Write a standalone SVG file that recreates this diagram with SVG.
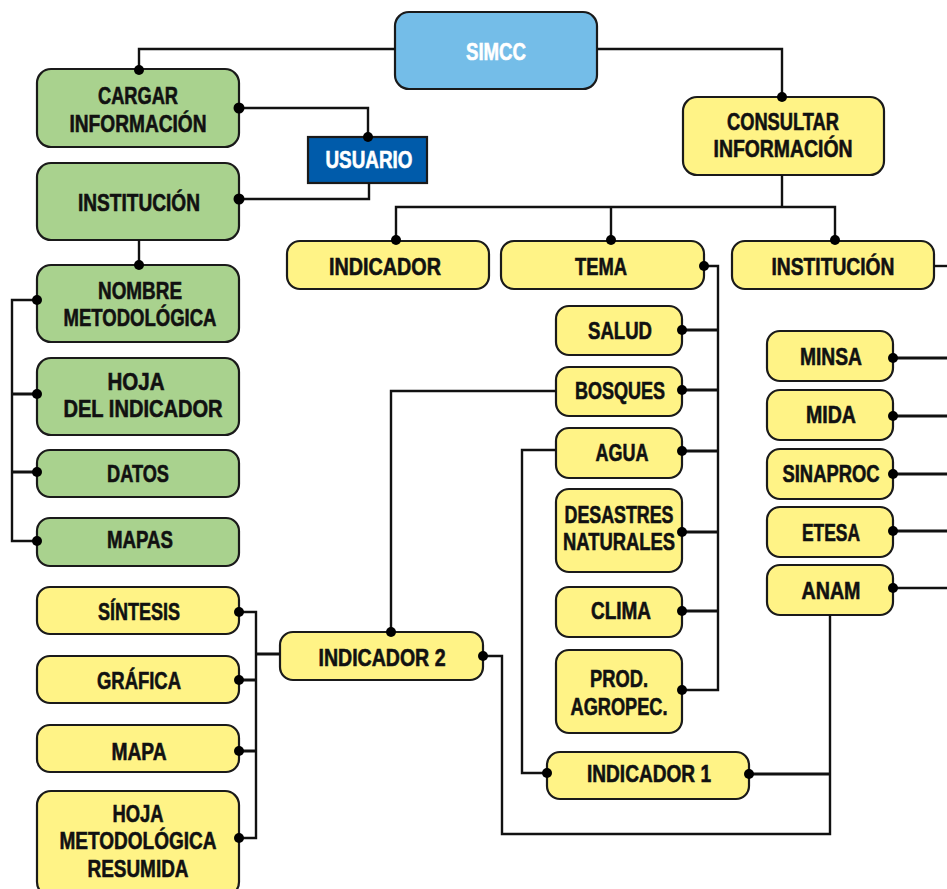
<svg xmlns="http://www.w3.org/2000/svg" width="947" height="889" viewBox="0 0 947 889">
<style>
.n{stroke:#1a1a1a;stroke-width:2.2}
.g{fill:#A9D28E}
.y{fill:#FFF386}
.b{fill:#74BDE8}
.u{fill:#005BAA}
text{font-family:"Liberation Sans Narrow","Liberation Sans",Arial,sans-serif;font-weight:bold;font-size:24px;text-anchor:middle;fill:#111;stroke:#111;stroke-width:0.6}
text.w{fill:#fff;stroke:#fff}
.c path{fill:none;stroke:#111;stroke-width:2.4}
.c .t{stroke-width:3.2}
.c circle{fill:#000}
</style>
<rect width="947" height="889" fill="#fff"/>
<g id="simcc"><rect class="n b" x="395" y="12" width="202" height="77" rx="14"/><text class="w" x="496" y="60" textLength="60" lengthAdjust="spacingAndGlyphs">SIMCC</text></g>
<g id="cargar"><rect class="n g" x="37" y="69" width="202" height="78" rx="14"/><text x="138" y="104" textLength="80" lengthAdjust="spacingAndGlyphs">CARGAR</text><text x="138" y="132" textLength="137" lengthAdjust="spacingAndGlyphs">INFORMACIÓN</text></g>
<g id="usuario"><rect class="n u" x="308" y="137" width="119" height="46"/><text class="w" x="369" y="168" textLength="87" lengthAdjust="spacingAndGlyphs">USUARIO</text></g>
<g id="institucion-g"><rect class="n g" x="37" y="163" width="202" height="77" rx="14"/><text x="139" y="211" textLength="122" lengthAdjust="spacingAndGlyphs">INSTITUCIÓN</text></g>
<g id="nombre"><rect class="n g" x="37" y="265" width="202" height="77" rx="14"/><text x="140" y="299" textLength="84" lengthAdjust="spacingAndGlyphs">NOMBRE</text><text x="140" y="326" textLength="153" lengthAdjust="spacingAndGlyphs">METODOLÓGICA</text></g>
<g id="hoja-ind"><rect class="n g" x="37" y="358" width="202" height="77" rx="14"/><text x="136" y="390" textLength="57" lengthAdjust="spacingAndGlyphs">HOJA</text><text x="143" y="417" textLength="159" lengthAdjust="spacingAndGlyphs">DEL INDICADOR</text></g>
<g id="datos"><rect class="n g" x="37" y="450" width="202" height="47" rx="13"/><text x="138" y="482" textLength="62" lengthAdjust="spacingAndGlyphs">DATOS</text></g>
<g id="mapas"><rect class="n g" x="37" y="518" width="202" height="48" rx="13"/><text x="140" y="548" textLength="66" lengthAdjust="spacingAndGlyphs">MAPAS</text></g>
<g id="consultar"><rect class="n y" x="683" y="97" width="201" height="78" rx="14"/><text x="783" y="130" textLength="112" lengthAdjust="spacingAndGlyphs">CONSULTAR</text><text x="783" y="157" textLength="139" lengthAdjust="spacingAndGlyphs">INFORMACIÓN</text></g>
<g id="indicador"><rect class="n y" x="287" y="241" width="202" height="48" rx="13"/><text x="385" y="275" textLength="112" lengthAdjust="spacingAndGlyphs">INDICADOR</text></g>
<g id="tema"><rect class="n y" x="501" y="241" width="203" height="48" rx="13"/><text x="601" y="275" textLength="52" lengthAdjust="spacingAndGlyphs">TEMA</text></g>
<g id="institucion-y"><rect class="n y" x="732" y="241" width="202" height="48" rx="13"/><text x="833" y="275" textLength="123" lengthAdjust="spacingAndGlyphs">INSTITUCIÓN</text></g>
<g id="salud"><rect class="n y" x="556" y="306" width="126" height="49" rx="13"/><text x="620" y="339" textLength="64" lengthAdjust="spacingAndGlyphs">SALUD</text></g>
<g id="bosques"><rect class="n y" x="556" y="367" width="126" height="49" rx="13"/><text x="620" y="399" textLength="90" lengthAdjust="spacingAndGlyphs">BOSQUES</text></g>
<g id="agua"><rect class="n y" x="556" y="428" width="126" height="50" rx="13"/><text x="622" y="461" textLength="53" lengthAdjust="spacingAndGlyphs">AGUA</text></g>
<g id="desastres"><rect class="n y" x="556" y="489" width="126" height="83" rx="13"/><text x="619" y="523" textLength="109" lengthAdjust="spacingAndGlyphs">DESASTRES</text><text x="619" y="550" textLength="112" lengthAdjust="spacingAndGlyphs">NATURALES</text></g>
<g id="clima"><rect class="n y" x="556" y="587" width="126" height="50" rx="13"/><text x="621" y="619" textLength="60" lengthAdjust="spacingAndGlyphs">CLIMA</text></g>
<g id="prod"><rect class="n y" x="556" y="650" width="126" height="83" rx="13"/><text x="619" y="687" textLength="58" lengthAdjust="spacingAndGlyphs">PROD.</text><text x="619" y="715" textLength="97" lengthAdjust="spacingAndGlyphs">AGROPEC.</text></g>
<g id="minsa"><rect class="n y" x="767" y="331" width="126" height="50" rx="13"/><text x="831" y="365" textLength="62" lengthAdjust="spacingAndGlyphs">MINSA</text></g>
<g id="mida"><rect class="n y" x="767" y="390" width="126" height="50" rx="13"/><text x="831" y="423" textLength="50" lengthAdjust="spacingAndGlyphs">MIDA</text></g>
<g id="sinaproc"><rect class="n y" x="767" y="449" width="126" height="50" rx="13"/><text x="831" y="482" textLength="97" lengthAdjust="spacingAndGlyphs">SINAPROC</text></g>
<g id="etesa"><rect class="n y" x="767" y="507" width="126" height="50" rx="13"/><text x="831" y="541" textLength="58" lengthAdjust="spacingAndGlyphs">ETESA</text></g>
<g id="anam"><rect class="n y" x="767" y="565" width="126" height="50" rx="13"/><text x="831" y="599" textLength="59" lengthAdjust="spacingAndGlyphs">ANAM</text></g>
<g id="sintesis"><rect class="n y" x="37" y="587" width="202" height="47" rx="13"/><text x="139" y="620" textLength="82" lengthAdjust="spacingAndGlyphs">SÍNTESIS</text></g>
<g id="grafica"><rect class="n y" x="37" y="656" width="202" height="47" rx="13"/><text x="139" y="689" textLength="84" lengthAdjust="spacingAndGlyphs">GRÁFICA</text></g>
<g id="mapa"><rect class="n y" x="37" y="725" width="202" height="47" rx="13"/><text x="139" y="760" textLength="55" lengthAdjust="spacingAndGlyphs">MAPA</text></g>
<g id="hoja-met"><rect class="n y" x="37" y="791" width="202" height="105" rx="14"/><text x="138" y="822" textLength="51" lengthAdjust="spacingAndGlyphs">HOJA</text><text x="138" y="849" textLength="157" lengthAdjust="spacingAndGlyphs">METODOLÓGICA</text><text x="138" y="877" textLength="101" lengthAdjust="spacingAndGlyphs">RESUMIDA</text></g>
<g id="indicador2"><rect class="n y" x="280" y="632" width="203" height="48" rx="13"/><text x="382" y="666" textLength="127" lengthAdjust="spacingAndGlyphs">INDICADOR 2</text></g>
<g id="indicador1"><rect class="n y" x="547" y="752" width="202" height="47" rx="13"/><text x="649" y="782" textLength="124" lengthAdjust="spacingAndGlyphs">INDICADOR 1</text></g>
<g class="c" id="connectors">
<path d="M395 49H139V70"/>
<path d="M597 49H782V97"/>
<path d="M239 108H368V137"/>
<path d="M369 183V199H239"/>
<path d="M139 240V265"/>
<path d="M37 300H12V541H37"/>
<path class="t" d="M12 394H37M12 472H37"/>
<path d="M782 175V207M396 240V207H835V240M611 207V240"/>
<path d="M934 266H947"/>
<path d="M704 266H718V690H682"/>
<path class="t" d="M682 330H718M682 390H718M682 451H718M682 532H718M682 611H718"/>
<path class="t" d="M893 358H947M893 416H947M893 474H947M893 531H947"/>
<path d="M893 588H947"/>
<path d="M830 615V834H502V656H483"/>
<path class="t" d="M749 774H830"/>
<path d="M556 391H391V632"/>
<path d="M556 450H522V773H547"/>
<path d="M239 612H256V838H239"/>
<path class="t" d="M239 680H256M239 751H256M256 654H280"/>
<circle cx="139" cy="70" r="5"/>
<circle cx="782" cy="97" r="5"/>
<circle cx="239" cy="108" r="5.5"/>
<circle cx="368" cy="137" r="5"/>
<circle cx="239" cy="199" r="5.5"/>
<circle cx="139" cy="265" r="5"/>
<circle cx="37" cy="300" r="5"/>
<circle cx="37" cy="394" r="5"/>
<circle cx="37" cy="472" r="5"/>
<circle cx="37" cy="541" r="5"/>
<circle cx="396" cy="240" r="5"/>
<circle cx="611" cy="240" r="5"/>
<circle cx="835" cy="240" r="5"/>
<circle cx="704" cy="266" r="5"/>
<circle cx="682" cy="330" r="5"/>
<circle cx="682" cy="390" r="5"/>
<circle cx="682" cy="451" r="5"/>
<circle cx="682" cy="532" r="5"/>
<circle cx="682" cy="611" r="5"/>
<circle cx="682" cy="690" r="5"/>
<circle cx="893" cy="358" r="5"/>
<circle cx="893" cy="416" r="5"/>
<circle cx="893" cy="474" r="5"/>
<circle cx="893" cy="531" r="5"/>
<circle cx="893" cy="588" r="5"/>
<circle cx="749" cy="774" r="5"/>
<circle cx="547" cy="773" r="5"/>
<circle cx="483" cy="656" r="5"/>
<circle cx="391" cy="632" r="5"/>
<circle cx="239" cy="612" r="5"/>
<circle cx="239" cy="680" r="5"/>
<circle cx="239" cy="751" r="5"/>
<circle cx="239" cy="838" r="5"/>
</g>
</svg>
